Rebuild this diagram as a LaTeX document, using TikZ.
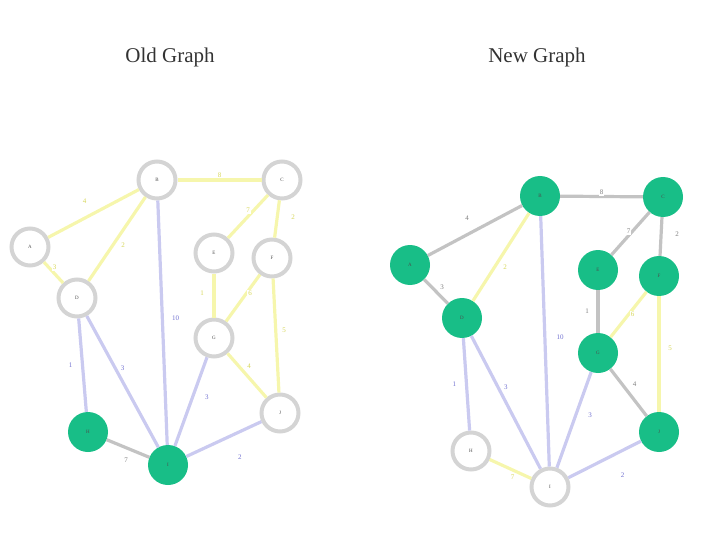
\documentclass[tikz,border=0pt]{standalone}
\usepackage{fontspec}
\setmainfont{Liberation Serif}
\definecolor{nodegreen}{RGB}{24,190,135}
\definecolor{ringgrey}{RGB}{212,212,212}
\definecolor{edgeyellow}{RGB}{246,246,172}
\definecolor{edgeblue}{RGB}{202,202,240}
\definecolor{edgegrey}{RGB}{195,195,195}
\definecolor{textyellow}{RGB}{215,215,90}
\definecolor{textblue}{RGB}{115,115,210}

\begin{document}
\begin{tikzpicture}[x=1pt, y=-1pt,
  oldnode/.style={circle, draw=ringgrey, line width=4pt, fill=white, minimum size=37pt, inner sep=0pt, font=\fontsize{5}{5}\selectfont, text=black!70},
  newnode/.style={circle, fill=nodegreen, minimum size=40pt, inner sep=0pt, font=\fontsize{5}{5}\selectfont, text=black!70},
  yedge/.style={draw=edgeyellow, line width=3.2pt},
  bedge/.style={draw=edgeblue, line width=3.2pt},
  gedge/.style={draw=edgegrey, line width=3.2pt},
  wlabel/.style={midway, fill=white, inner sep=1pt, font=\fontsize{7}{7}\selectfont},
  ylabel/.style={wlabel, text=textyellow},
  blabel/.style={wlabel, text=textblue},
  glabel/.style={wlabel, text=black!50},
  title/.style={font=\fontsize{21}{21}\selectfont, text=black!80}]

  \useasboundingbox (0,0) rectangle (720,540);

  %% Titles
  \node[title] (oldtitle) at (170,57) {Old Graph};
  \node[title] (newtitle) at (537,57) {New Graph};

  %% Left: old graph
  \foreach \n/\x/\y in {A/30/247, B/157/180, C/282/180, D/77/298, E/214/253,
                        F/272/258, G/214/338, J/280/413}
    \node[oldnode] (o\n) at (\x,\y) {\n};
  \node[newnode] (oH) at (88,432) {H};
  \node[newnode] (oI) at (168,465) {I};

  % tree edges
  \draw[yedge] (oA) -- node[ylabel, xshift=-9pt, yshift=12pt] {4} (oB);
  \draw[yedge] (oB) -- node[ylabel, yshift=5pt] {8} (oC);
  \draw[yedge] (oA) -- node[ylabel, xshift=1pt, yshift=5pt] {3} (oD);
  \draw[yedge] (oB) -- node[ylabel, xshift=6pt, yshift=-6pt] {2} (oD);
  \draw[yedge] (oC) -- node[ylabel, yshift=6pt] {7} (oE);
  \draw[yedge] (oC) -- node[ylabel, xshift=16pt, yshift=2pt] {2} (oF);
  \draw[yedge] (oE) -- node[ylabel, xshift=-12pt, yshift=2pt] {1} (oG);
  \draw[yedge] (oF) -- node[ylabel, xshift=7pt, yshift=5pt] {6} (oG);
  \draw[yedge] (oF) -- node[ylabel, xshift=8pt, yshift=5pt] {5} (oJ);
  \draw[yedge] (oG) -- node[ylabel, xshift=2pt, yshift=9pt] {4} (oJ);
  % crossing edges
  \draw[bedge] (oD) -- node[blabel, xshift=-12pt] {1} (oH);
  \draw[bedge] (oD) -- node[blabel, yshift=13pt] {3} (oI);
  \draw[bedge] (oB) -- node[blabel, xshift=13pt, yshift=4pt] {10} (oI);
  \draw[bedge] (oG) -- node[blabel, xshift=16pt, yshift=4pt] {3} (oI);
  \draw[bedge] (oJ) -- node[blabel, xshift=16pt, yshift=-18pt] {2} (oI);
  \draw[gedge] (oH) -- node[glabel, xshift=-2pt, yshift=-12pt] {7} (oI);

  %% Right: new graph
  \foreach \n/\x/\y in {A/410/265, B/540/196, C/663/197, D/462/318, E/598/270,
                        F/659/276, G/598/353, J/659/432}
    \node[newnode] (n\n) at (\x,\y) {\n};
  \node[oldnode] (nH) at (471,451) {H};
  \node[oldnode] (nI) at (550,487) {I};

  % tree edges
  \draw[gedge] (nA) -- node[glabel, xshift=-8pt, yshift=12pt] {4} (nB);
  \draw[gedge] (nB) -- node[glabel, yshift=4pt] {8} (nC);
  \draw[gedge] (nA) -- node[glabel, xshift=6pt, yshift=4pt] {3} (nD);
  \draw[yedge] (nB) -- node[ylabel, xshift=4pt, yshift=-10pt] {2} (nD);
  \draw[gedge] (nC) -- node[glabel, xshift=-2pt, yshift=2pt] {7} (nE);
  \draw[gedge] (nC) -- node[glabel, xshift=16pt, yshift=2pt] {2} (nF);
  \draw[gedge] (nE) -- node[glabel, xshift=-11pt] {1} (nG);
  \draw[yedge] (nF) -- node[ylabel, xshift=4pt] {6} (nG);
  \draw[yedge] (nF) -- node[ylabel, xshift=11pt, yshift=6pt] {5} (nJ);
  \draw[gedge] (nG) -- node[glabel, xshift=6pt, yshift=8pt] {4} (nJ);
  % crossing edges
  \draw[bedge] (nD) -- node[blabel, xshift=-12pt] {1} (nH);
  \draw[bedge] (nD) -- node[blabel, yshift=15pt] {3} (nI);
  \draw[bedge] (nB) -- node[blabel, xshift=15pt, yshift=4pt] {10} (nI);
  \draw[bedge] (nG) -- node[blabel, xshift=16pt, yshift=5pt] {3} (nI);
  \draw[bedge] (nJ) -- node[blabel, xshift=18pt, yshift=-16pt] {2} (nI);
  \draw[yedge] (nH) -- node[ylabel, xshift=2pt, yshift=-8pt] {7} (nI);

\end{tikzpicture}
\end{document}
